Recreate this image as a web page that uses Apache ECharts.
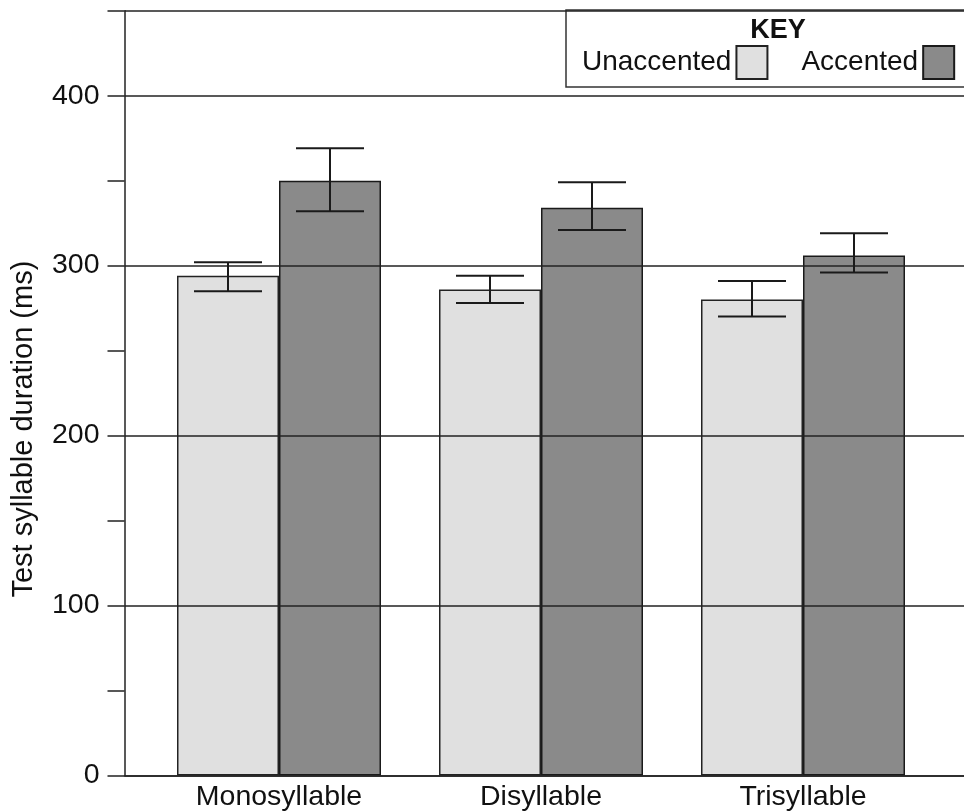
<!DOCTYPE html>
<html>
<head>
<meta charset="utf-8">
<script src="https://cdn.jsdelivr.net/npm/echarts@6/dist/echarts.min.js"></script>
<style>
html,body{margin:0;padding:0;background:#fff;}
#c{width:964px;height:812px;}
</style>
</head>
<body>
<div id="c"></div>
<script>
var categories = ['Monosyllable', 'Disyllable', 'Trisyllable'];
var seriesNames = ['Unaccented', 'Accented'];
var unaccented = [294, 286, 280];
var accented = [350, 334, 306];
var unaccentedLow = [285, 278, 270];
var unaccentedHigh = [302, 294, 291];
var accentedLow = [332, 321, 296];
var accentedHigh = [369, 349, 319];
var yTickValues = [0, 100, 200, 300, 400];

var FONT = "'Liberation Sans', Arial, sans-serif";
var BAR_W = 102;
var CAP_W = 68;

function errData(low, high) {
  return categories.map(function (c, i) { return [i, low[i], high[i]]; });
}
function errRender(side) {
  return function (params, api) {
    var ci = api.value(0);
    var lo = api.coord([ci, api.value(1)]);
    var hi = api.coord([ci, api.value(2)]);
    var x = lo[0] + side * BAR_W / 2;
    var st = { stroke: '#1a1a1a', lineWidth: 2 };
    return {
      type: 'group',
      children: [
        { type: 'line', shape: { x1: x, y1: hi[1], x2: x, y2: lo[1] }, style: st },
        { type: 'line', shape: { x1: x - CAP_W / 2, y1: hi[1], x2: x + CAP_W / 2, y2: hi[1] }, style: st },
        { type: 'line', shape: { x1: x - CAP_W / 2, y1: lo[1], x2: x + CAP_W / 2, y2: lo[1] }, style: st }
      ]
    };
  };
}

var chart = echarts.init(document.getElementById('c'));
chart.setOption({
  backgroundColor: '#fff',
  animation: false,
  textStyle: { fontFamily: FONT },
  title: {
    text: 'KEY', left: 773, top: 12, textAlign: 'center',
    textStyle: { fontFamily: FONT, fontSize: 27, fontWeight: 'bold', color: '#111' }
  },
  legend: {
    data: seriesNames,
    left: 566, top: 10,
    align: 'right',
    icon: 'rect',
    itemWidth: 31, itemHeight: 33, itemGap: 33,
    padding: [35, 20, 7, 16],
    borderColor: '#333', borderWidth: 1.5,
    textStyle: { fontFamily: FONT, fontSize: 28, color: '#111' }
  },
  grid: [
    { left: 124.5, right: 0, top: 10.7, bottom: 36.5 },
    { left: 148, right: 30, top: 10.7, bottom: 36.5 }
  ],
  xAxis: [
    { gridIndex: 0, type: 'value', min: 0, max: 1, axisLine: { show: true, lineStyle: { color: '#222', width: 1.5 } },
      axisTick: { show: false }, axisLabel: { show: false }, splitLine: { show: false } },
    { gridIndex: 1, type: 'category', data: categories,
      axisLine: { show: false }, axisTick: { show: false },
      axisLabel: { fontFamily: FONT, fontSize: 28.5, color: '#111', margin: 7 } }
  ],
  yAxis: [
    { gridIndex: 0, type: 'value', min: 0, max: 450, interval: 50,
      name: 'Test syllable duration (ms)', nameLocation: 'middle', nameGap: 86,
      nameTextStyle: { fontFamily: FONT, fontSize: 29, color: '#111', padding: [0, 72, 0, 0] },
      axisLine: { show: true, lineStyle: { color: '#222', width: 1.5 } },
      axisTick: { show: true, length: 17, lineStyle: { color: '#222', width: 1.5 } },
      axisLabel: { fontFamily: FONT, fontSize: 28.5, color: '#111', margin: 25,
        formatter: function (v) { return yTickValues.indexOf(v) >= 0 ? String(v) : ''; } },
      splitLine: { show: false } },
    { gridIndex: 0, type: 'value', min: 0, max: 450, interval: 100, z: 4,
      axisLine: { show: false }, axisTick: { show: false }, axisLabel: { show: false },
      splitLine: { show: true, lineStyle: { color: '#222', width: 1.5 } } },
    { gridIndex: 1, type: 'value', min: 0, max: 450, show: false }
  ],
  series: [
    { name: seriesNames[0], type: 'bar', xAxisIndex: 1, yAxisIndex: 2, data: unaccented,
      barWidth: BAR_W, barGap: '0%',
      itemStyle: { color: '#e0e0e0', borderColor: '#222', borderWidth: 1.5 } },
    { name: seriesNames[1], type: 'bar', xAxisIndex: 1, yAxisIndex: 2, data: accented,
      barWidth: BAR_W, barGap: '0%',
      itemStyle: { color: '#8a8a8a', borderColor: '#1a1a1a', borderWidth: 1.5 } },
    { type: 'custom', xAxisIndex: 1, yAxisIndex: 2, data: errData(unaccentedLow, unaccentedHigh),
      renderItem: errRender(-1), z: 5, silent: true },
    { type: 'custom', xAxisIndex: 1, yAxisIndex: 2, data: errData(accentedLow, accentedHigh),
      renderItem: errRender(1), z: 5, silent: true }
  ]
});
</script>
</body>
</html>
